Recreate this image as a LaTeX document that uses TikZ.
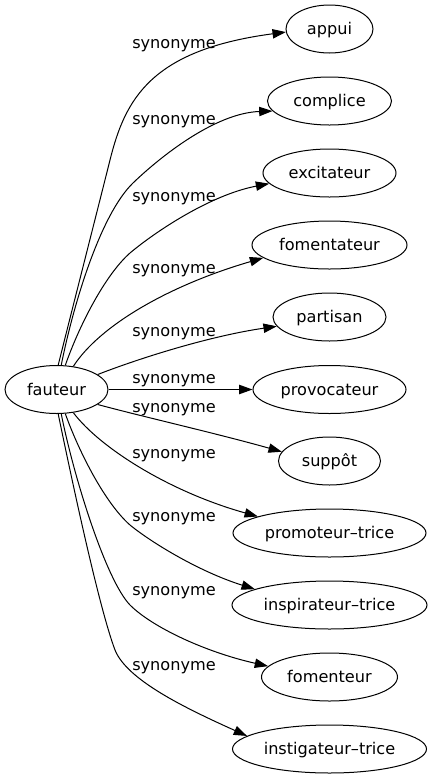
\documentclass[tikz,border=0pt]{standalone}
\usepackage{fontspec}
\setmainfont{DejaVu Sans}
\usetikzlibrary{shapes.geometric,arrows.meta}
\begin{document}
\begin{tikzpicture}[x=0.75pt,y=-0.75pt,
  txt/.style={font=\fontsize{12.1pt}{14pt}\selectfont},
  word/.style={txt, ellipse, draw, line width=0.75pt, inner sep=0pt,
    minimum height=36pt, text height=8.5pt, text depth=0pt},
  lbl/.style={txt, inner sep=0pt, text height=8.5pt, text depth=0pt},
  edge/.style={line width=0.75pt, -{Triangle[length=10pt,width=7pt]}}
]
\useasboundingbox[fill=white] (0,0) rectangle (432,779);
% nodes
\node[word, minimum width=77.25pt] (f) at (56.5,389.5) {\makebox[0pt]{fauteur}};
\node[word, minimum width=65.25pt] (appui) at (329.5,29) {\makebox[0pt]{appui}};
\node[word, minimum width=93pt] (complice) at (329.5,101) {\makebox[0pt]{complice}};
\node[word, minimum width=99.75pt] (excit) at (329.5,173) {\makebox[0pt]{excitateur}};
\node[word, minimum width=116.25pt] (fomentat) at (329.5,245) {\makebox[0pt]{fomentateur}};
\node[word, minimum width=84.75pt] (partisan) at (329.5,317) {\makebox[0pt]{partisan}};
\node[word, minimum width=114.75pt] (provoc) at (329.5,389.5) {\makebox[0pt]{provocateur}};
\node[word, minimum width=76.5pt] (suppot) at (329.5,461) {\makebox[0pt]{suppôt}};
\node[word, minimum width=144.75pt] (promot) at (329.5,533) {\makebox[0pt]{promoteur–trice}};
\node[word, minimum width=146.25pt] (inspir) at (329.5,605) {\makebox[0pt]{inspirateur–trice}};
\node[word, minimum width=102pt] (fomenteur) at (329.5,677) {\makebox[0pt]{fomenteur}};
\node[word, minimum width=145.5pt] (instig) at (329.5,749) {\makebox[0pt]{instigateur–trice}};
% labels
\node[lbl] (l1) at (174,43.3) {synonyme};
\node[lbl] (l2) at (174,119.3) {synonyme};
\node[lbl] (l3) at (174,196.3) {synonyme};
\node[lbl] (l4) at (174,268.3) {synonyme};
\node[lbl] (l5) at (174,331.3) {synonyme};
\node[lbl] (l6) at (174,378.3) {synonyme};
\node[lbl] (l7) at (174,407.3) {synonyme};
\node[lbl] (l8) at (174,453.3) {synonyme};
\node[lbl] (l9) at (174,516.3) {synonyme};
\node[lbl] (l10) at (174,590.3) {synonyme};
\node[lbl] (l11) at (174,665.3) {synonyme};
% edges
\draw[edge] (f.86.4) .. controls (72,310) and (100,200) .. (110,160) .. controls (125,100) and (150,50) .. (appui.184);
\draw[edge] (f.79.3) .. controls (73,306) and (100,215) .. (133,183) .. controls (160,157) and (215,113) .. (complice.190.4);
\draw[edge] (f.70.2) .. controls (79,326) and (105,275) .. (130,253) .. controls (155,232) and (210,195) .. (excit.190.2);
\draw[edge] (f.54) .. controls (100,325) and (170,285) .. (fomentat.191);
\draw[edge] (f.20.1) .. controls (140,358) and (210,336) .. (partisan.190.8);
\draw[edge] (f) -- (provoc);
\draw[edge] (f.-20.1) .. controls (140,416) and (215,433) .. (suppot.169.6);
\draw[edge] (f.-54) .. controls (100,448) and (170,492) .. (promot.167.6);
\draw[edge] (f.-70.2) .. controls (79,452) and (105,503) .. (130,525) .. controls (152,543) and (200,572) .. (inspir.168.8);
\draw[edge] (f.-79.3) .. controls (74,478) and (106,580) .. (130,605) .. controls (152,627) and (205,652) .. (fomenteur.170.8);
\draw[edge] (f.-86.4) .. controls (76,500) and (100,610) .. (115,650) .. controls (127,680) and (185,708) .. (instig.171.7);
\end{tikzpicture}
\end{document}
